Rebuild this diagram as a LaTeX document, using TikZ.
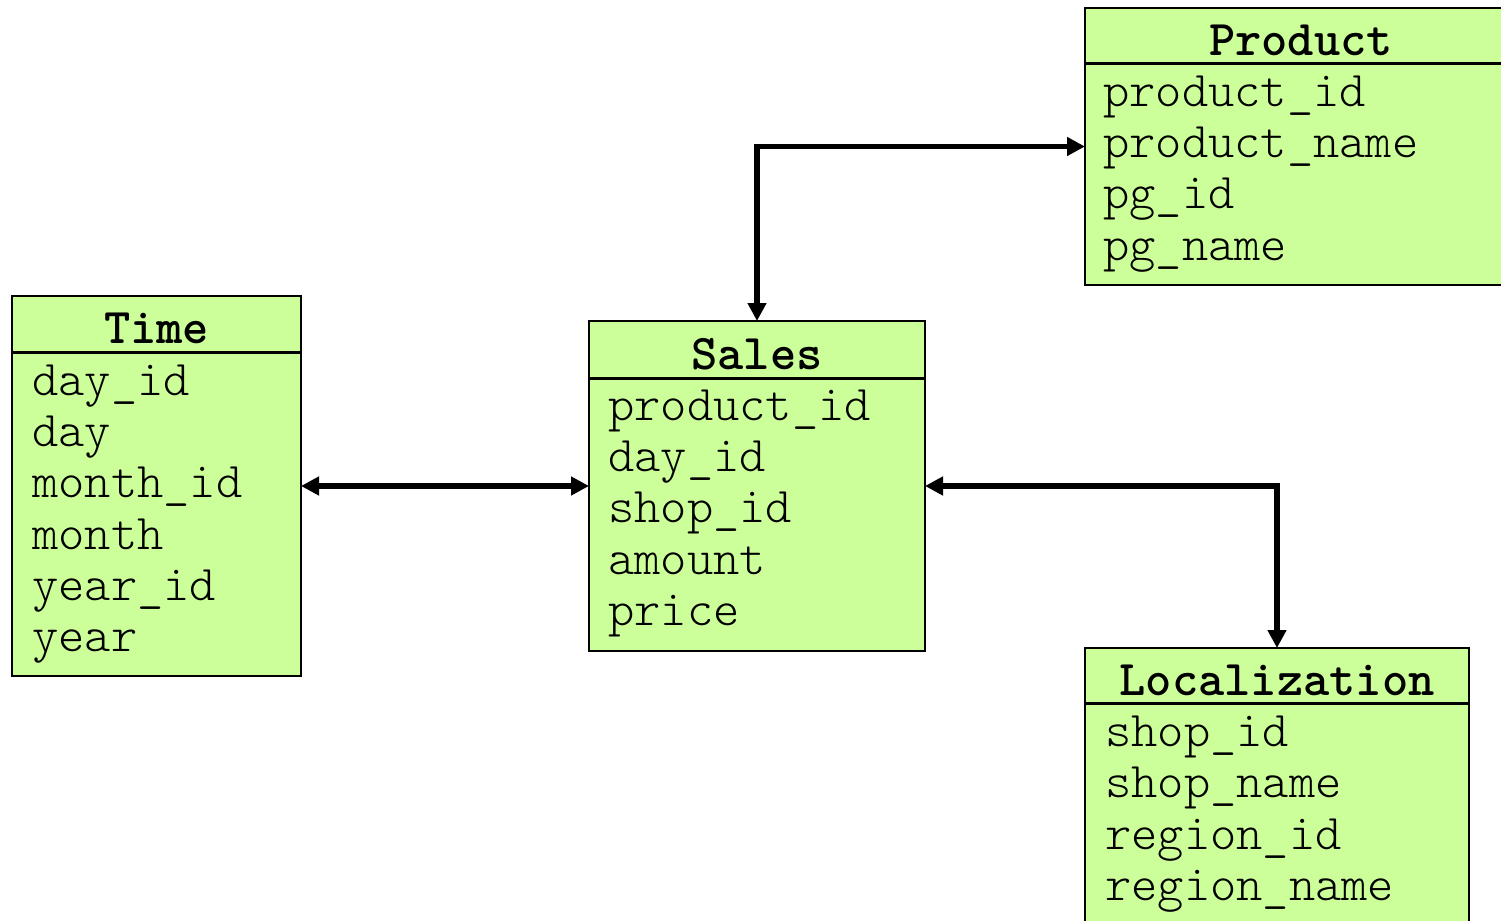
\documentclass[tikz,border=0pt]{standalone}
\usepackage{fontspec}
\setmonofont{Latin Modern Mono Light}
\usetikzlibrary{arrows.meta}
\definecolor{tblfill}{HTML}{CCFF99}
\begin{document}
\begin{tikzpicture}[x=0.5pt,y=-0.5pt,
  tbl/.style={draw=black, fill=tblfill, line width=1pt, rectangle, anchor=north west, inner sep=0pt, outer sep=0pt},
  sep/.style={line width=1.5pt},
  hdr/.style={anchor=base, inner sep=0pt, font=\fontsize{25}{29}\selectfont\ttfamily\bfseries},
  fld/.style={anchor=base west, inner sep=0pt, font=\fontsize{25}{29}\selectfont\ttfamily},
  conn/.style={line width=2.9pt, line join=miter, {Triangle[length=9pt,width=9pt]}-{Triangle[length=9pt,width=9pt]}}]
\clip (0,0) rectangle (1501,921);
\fill[white] (0,0) rectangle (1501,921);
% boxes
\node[tbl, minimum width=144.5pt, minimum height=190pt] (time) at (12,296) {};
\node[tbl, minimum width=168pt, minimum height=165pt] (sales) at (589,321) {};
\node[tbl, minimum width=215pt, minimum height=138.5pt] (product) at (1085,8) {};
\node[tbl, minimum width=192pt, minimum height=150pt] (loc) at (1085,648) {};
% header separators
\draw[sep] (12,352) -- (301,352);
\draw[sep] (589,378) -- (925,378);
\draw[sep] (1085,63) -- (1515,63);
\draw[sep] (1085,703) -- (1469,703);
% Time
\node[hdr] (timeh) at (156.5,343) {Time};
\node[fld] (t1) at (32,395) {day\_id};
\node[fld] (t2) at (32,446) {day};
\node[fld] (t3) at (32,497) {month\_id};
\node[fld] (t4) at (32,549) {month};
\node[fld] (t5) at (32,600) {year\_id};
\node[fld] (t6) at (32,651) {year};
% Sales
\node[hdr] (salesh) at (757,369) {Sales};
\node[fld] (s1) at (608,420) {product\_id};
\node[fld] (s2) at (608,471) {day\_id};
\node[fld] (s3) at (608,522) {shop\_id};
\node[fld] (s4) at (608,574) {amount};
\node[fld] (s5) at (608,625) {price};
% Product
\node[hdr] (producth) at (1301,55) {Product};
\node[fld] (p1) at (1103,106) {product\_id};
\node[fld] (p2) at (1103,157) {product\_name};
\node[fld] (p3) at (1103,208) {pg\_id};
\node[fld] (p4) at (1103,260) {pg\_name};
% Localization
\node[hdr] (loch) at (1277,695) {Localization};
\node[fld] (l1) at (1105,746) {shop\_id};
\node[fld] (l2) at (1105,797) {shop\_name};
\node[fld] (l3) at (1105,849) {region\_id};
\node[fld] (l4) at (1105,900) {region\_name};
% connectors
\draw[conn] (time.east) -- (sales.west);
\draw[conn] (sales.north) |- (product.west);
\draw[conn] (sales.east) -| (loc.north);
\end{tikzpicture}
\end{document}
